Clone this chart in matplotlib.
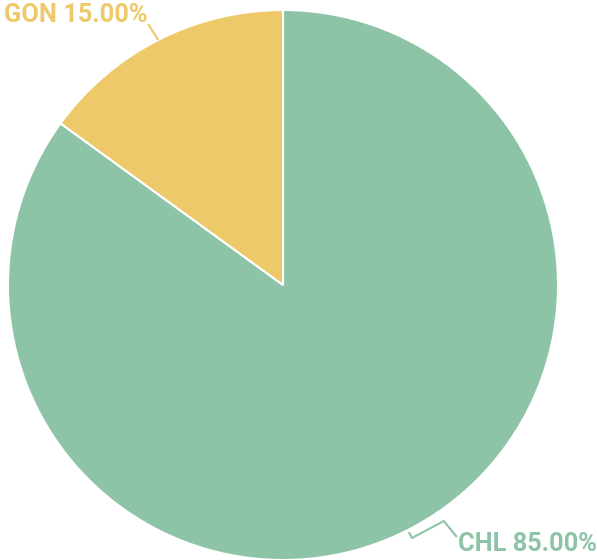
import numpy as np
import matplotlib as mpl
from matplotlib import pyplot as plt

labels = ["CHL", "GON"]
shares = [85.0, 15.0]
colors = ["#8dc3a7", "#edc96a"]

W, H = 597, 560
CX, CY, R = 283, H - 285, 275

mpl.rcParams["font.family"] = ["Roboto", "DejaVu Sans"]

fig = plt.figure(figsize=(W / 100, H / 100), dpi=100)
ax = fig.add_axes([0, 0, 1, 1])

wedges, _ = ax.pie(
    shares,
    colors=colors,
    startangle=90,
    counterclock=False,
    center=(CX, CY),
    radius=R,
    wedgeprops={"edgecolor": "white", "linewidth": 1.5},
    frame=True,
)
ax.set_xlim(0, W)
ax.set_ylim(0, H)
ax.set_aspect("equal")
ax.axis("off")

FS = 18.3
# leader lines from the wedge midpoints, and labels
for w, lab, val, col in zip(wedges, labels, shares, colors):
    mid = np.deg2rad((w.theta1 + w.theta2) / 2)
    ex, ey = CX + R * np.cos(mid), CY + R * np.sin(mid)
    if lab == "GON":
        xs = [ex, ex - 10]
        ys = [ey, ey + 16]
        ax.plot(xs, ys, color=col, lw=1.5, solid_capstyle="butt")
        ax.text(xs[-1] - 1, ys[-1] + 2, f"{lab} {val:.2f}%", color=col,
                fontsize=FS, fontweight="bold", ha="right", va="baseline")
    else:
        xs = [ex + 1, ex + 4, ex + 36, ex + 49]
        ys = [ey - 2, ey - 8, ey + 9, ey - 7]
        ax.plot(xs, ys, color=col, lw=1.5, solid_capstyle="butt")
        ax.text(xs[-1] + 1, ys[-1] - 14, f"{lab} {val:.2f}%", color=col,
                fontsize=FS, fontweight="bold", ha="left", va="baseline")

fig.savefig("out.png", dpi=100)
